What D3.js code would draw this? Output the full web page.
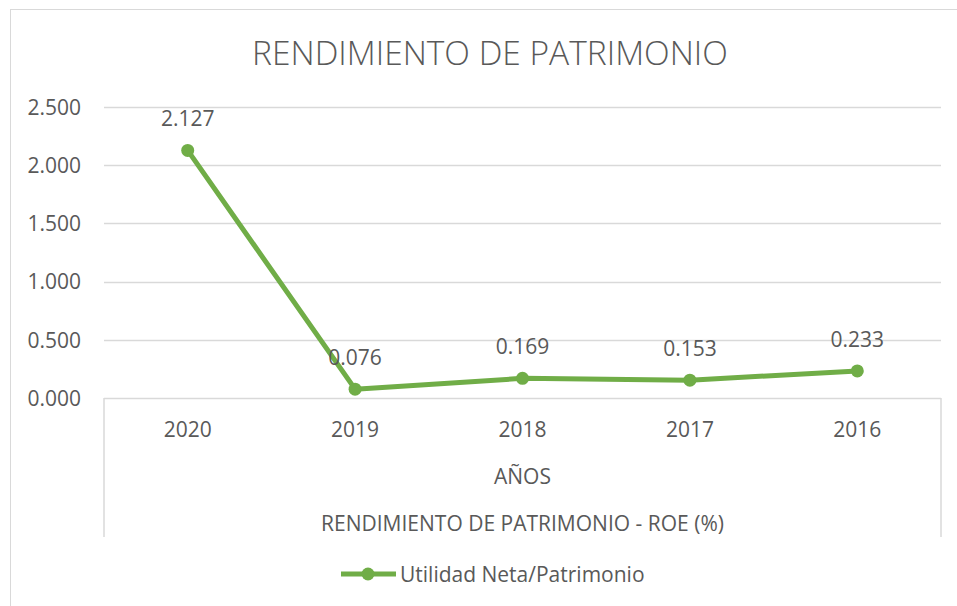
<!DOCTYPE html>
<html><head><meta charset="utf-8">
<script src="https://cdn.jsdelivr.net/npm/d3@7"></script>
<style>body{margin:0;background:#fff}svg{display:block}text{font-family:"Open Sans",sans-serif;fill:#595959}</style>
</head><body><svg id="c" width="957" height="606"></svg>
<script>
const title = "RENDIMIENTO DE PATRIMONIO";
const categories = ["2020","2019","2018","2017","2016"];
const values = [2.127, 0.076, 0.169, 0.153, 0.233];
const valueLabels = ["2.127","0.076","0.169","0.153","0.233"];
const yTicks = [0, 0.5, 1.0, 1.5, 2.0, 2.5];
const yTickLabels = ["0.000","0.500","1.000","1.500","2.000","2.500"];
const groupLabel = "AÑOS";
const outerLabel = "RENDIMIENTO DE PATRIMONIO - ROE (%)";
const seriesName = "Utilidad Neta/Patrimonio";

const svg = d3.select("#c");
const green = "#70AD47", grid = "#D9D9D9";
const L = 104, R = 941, T = 107, B = 398;

svg.append("rect").attr("x",10.5).attr("y",9.5).attr("width",980).attr("height",640)
  .attr("fill","#fff").attr("stroke",grid);

svg.append("text").attr("x",490).attr("y",52).attr("text-anchor","middle")
  .attr("dominant-baseline","central").style("font-size","33.5px").style("font-weight","300").text(title);

const x = d3.scaleBand().domain(categories).range([L,R]);
const y = d3.scaleLinear().domain([0,2.5]).range([B,T]);

// gridlines
svg.append("g").selectAll("line").data(yTicks.filter(d=>d>0)).join("line")
  .attr("x1",L).attr("x2",R).attr("y1",d=>Math.round(y(d))+0.5).attr("y2",d=>Math.round(y(d))+0.5)
  .attr("stroke",grid).attr("stroke-width",1.5);

// y axis labels
const yAxis = d3.axisLeft(y).tickValues(yTicks).tickSize(0).tickPadding(0)
  .tickFormat((d,i)=>yTickLabels[i]);
const gy = svg.append("g").attr("transform",`translate(${L-23},0)`).call(yAxis);
gy.select(".domain").remove();
gy.selectAll("text").style("font-size","21px").attr("fill","#595959").style("font-family","Open Sans")
  .attr("dy","0.35em");

// x axis + category table borders
svg.append("line").attr("x1",L).attr("x2",R).attr("y1",B+0.5).attr("y2",B+0.5).attr("stroke",grid).attr("stroke-width",1.5);
[L,R].forEach(px=>{
  svg.append("line").attr("x1",px).attr("x2",px).attr("y1",B).attr("y2",537).attr("stroke",grid).attr("stroke-width",1.5);
});
const xAxis = d3.axisBottom(x).tickSize(0).tickPadding(0);
const gx = svg.append("g").attr("transform",`translate(0,${B+32})`).call(xAxis);
gx.select(".domain").remove();
gx.selectAll("text").style("font-size","21px").attr("fill","#595959").style("font-family","Open Sans")
  .attr("dy","0.35em");

svg.append("text").attr("x",(L+R)/2).attr("y",476).attr("text-anchor","middle")
  .attr("dominant-baseline","central").style("font-size","21px").text(groupLabel);
svg.append("text").attr("x",(L+R)/2).attr("y",523).attr("text-anchor","middle")
  .attr("dominant-baseline","central").style("font-size","21px").text(outerLabel);

// line
const cx = d=>x(d)+x.bandwidth()/2;
const line = d3.line().x((d,i)=>cx(categories[i])).y(d=>y(d));
svg.append("path").datum(values).attr("d",line).attr("fill","none")
  .attr("stroke",green).attr("stroke-width",5).attr("stroke-linejoin","round");
svg.append("g").selectAll("circle").data(values).join("circle")
  .attr("cx",(d,i)=>cx(categories[i])).attr("cy",d=>y(d)).attr("r",6.5).attr("fill",green);
svg.append("g").selectAll("text").data(values).join("text")
  .attr("x",(d,i)=>cx(categories[i])).attr("y",d=>y(d)-32).attr("text-anchor","middle")
  .attr("dominant-baseline","central").style("font-size","21px").attr("fill","#404040")
  .text((d,i)=>valueLabels[i]);

// legend
const lg = svg.append("g");
lg.append("line").attr("x1",341).attr("x2",396).attr("y1",574).attr("y2",574).attr("stroke",green).attr("stroke-width",5);
lg.append("circle").attr("cx",368).attr("cy",574).attr("r",6.5).attr("fill",green);
lg.append("text").attr("x",400).attr("y",574).attr("dominant-baseline","central").style("font-size","21px").text(seriesName);
</script></body></html>
